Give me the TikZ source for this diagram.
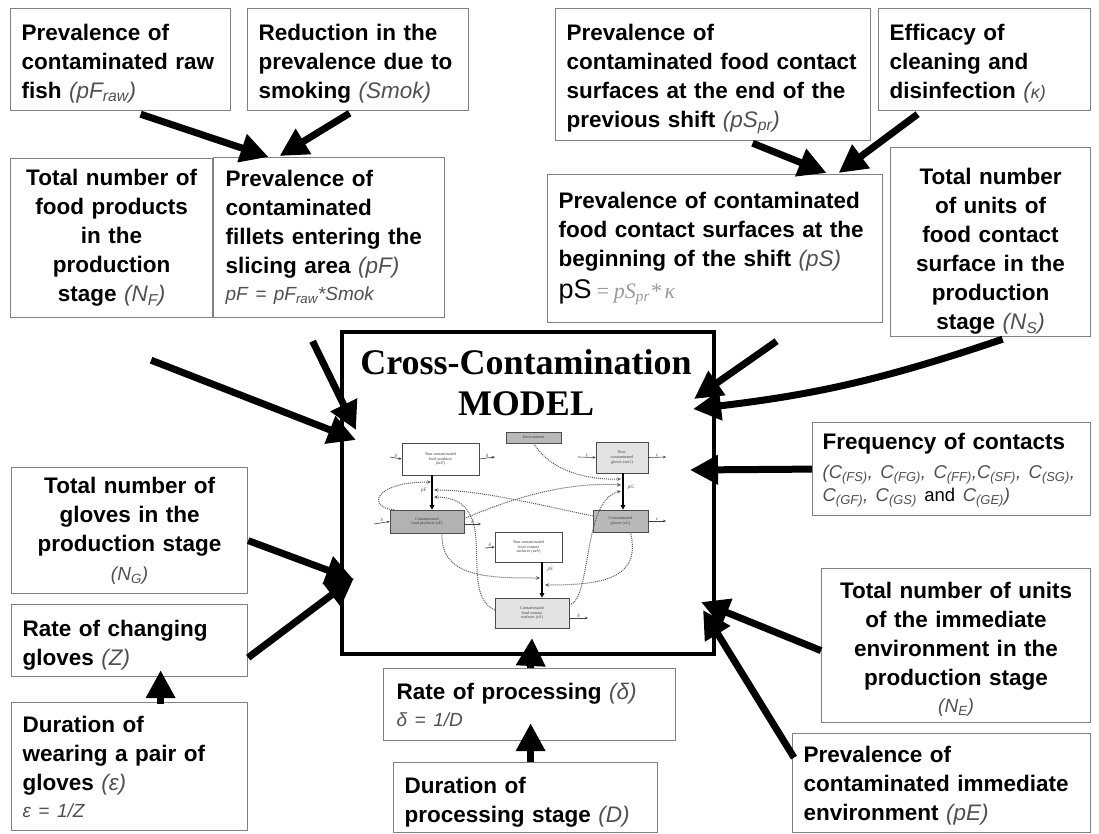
\documentclass[tikz,border=0pt]{standalone}
\usepackage{fontspec}
\setmainfont{Liberation Sans}
\newfontfamily\serifrm{Liberation Serif}
\usetikzlibrary{arrows.meta}
\definecolor{boxgray}{HTML}{808080}
\definecolor{vargray}{HTML}{505050}
\definecolor{lightvar}{HTML}{9A9A9A}
% italic variable names inside the bold box texts
\newcommand\pvar[1]{{\mdseries\itshape\color{vargray}#1}}
\newcommand\formula[1]{{\mdseries\itshape\color{vargray}\fontsize{19}{22}\selectfont #1}}
% extra room above the first line of a box text
\newcommand\headroom[1]{\rule{0pt}{#1}}
\begin{document}
\begin{tikzpicture}[x=1pt,y=-1pt,
  box/.style={draw=boxgray, line width=1.2pt, fill=white, inner xsep=11pt, inner ysep=0pt,
    anchor=north west, font=\bfseries\fontsize{22.5}{29}\selectfont, align=left},
  cbox/.style={box, align=center},
  bigarrow/.style={line width=7pt, -{Triangle[length=28pt,width=28pt]}},
  mini/.style={draw=black!70, line width=0.6pt, inner sep=0.5pt, align=center, text=black!75,
    font=\serifrm\fontsize{4.2}{4.8}\selectfont},
  miniflow/.style={line width=1.6pt, -{Triangle[length=4.5pt,width=4.5pt]}},
  dotflow/.style={densely dotted, line width=1pt, draw=black!65, -{Stealth[length=4pt,width=3.5pt]}},
  sideflow/.style={line width=0.6pt, draw=black!75, -{Stealth[length=3pt,width=2.5pt]}},
  sidelab/.style={font=\serifrm\itshape\fontsize{5}{5}\selectfont, text=black!75, inner sep=0.5pt}]
\useasboundingbox[fill=white] (0,0) rectangle (1099,834);

% ---- input boxes, top left
\node[box, minimum width=220pt, minimum height=102pt, text width=198pt] (rawfish) at (10,8)
  {\headroom{25pt}Prevalence of\\contaminated raw\\fish \pvar{(pF\textsubscript{raw})}};
\node[box, minimum width=221pt, minimum height=102pt, text width=199pt] (smoking) at (247,8)
  {\headroom{25pt}Reduction in the\\prevalence due to\\smoking \pvar{(Smok)}};
\node[cbox, minimum width=195pt, minimum height=159pt, text width=180pt] (foodprod) at (10,158)
  {Total number of\\food products\\in the\\production\\stage \pvar{(N\textsubscript{F})}};
\node[box, minimum width=231pt, minimum height=160pt, text width=207pt, inner xsep=12pt] (fillets) at (213,157)
  {Prevalence of\\contaminated\\fillets entering the\\slicing area \pvar{(pF)}\\[-2pt]\formula{pF = pF\textsubscript{raw}*Smok}};

% ---- input boxes, top right
\node[box, minimum width=315pt, minimum height=132pt, text width=293pt] (prevshift) at (555,8)
  {\headroom{25pt}Prevalence of\\contaminated food contact\\surfaces at the end of the\\previous shift \pvar{(pS\textsubscript{pr})}};
\node[box, minimum width=212pt, minimum height=102pt, text width=190pt] (efficacy) at (878,8)
  {\headroom{25pt}Efficacy of\\cleaning and\\disinfection \pvar{(\fontsize{18}{20}\selectfont κ)}};
\node[box, minimum width=335pt, minimum height=148pt, text width=313pt] (pS) at (547,174)
  {Prevalence of contaminated\\food contact surfaces at the\\beginning of the shift \pvar{(pS)}\\[3pt]
   {\mdseries\fontsize{27}{30}\selectfont pS}{\mdseries\color{lightvar}\serifrm\itshape\fontsize{22}{26}\selectfont\,=\,pS\textsubscript{pr}*\,κ}};
\node[cbox, minimum width=200pt, minimum height=189pt, text width=190pt, inner xsep=5pt] (surfunits) at (890,147)
  {\headroom{34pt}Total number\\of units of\\food contact\\surface in the\\production\\stage \pvar{(N\textsubscript{S})}};

% ---- input boxes, left
\node[cbox, minimum width=236pt, minimum height=126pt, text width=220pt, inner xsep=8pt] (gloves) at (11,467)
  {Total number of\\gloves in the\\production stage\\\pvar{\fontsize{19}{22}\selectfont(N\textsubscript{G})}};
\node[box, minimum width=236pt, minimum height=72pt, text width=214pt] (changing) at (11,604)
  {\headroom{25pt}Rate of changing\\gloves \pvar{(Z)}};
\node[box, minimum width=236pt, minimum height=128pt, text width=214pt] (wearing) at (11,702)
  {Duration of\\wearing a pair of\\gloves \pvar{(ε)}\\[-2pt]\formula{ε = 1/Z}};

% ---- input boxes, bottom
\node[box, minimum width=292pt, minimum height=72pt, text width=266pt, inner xsep=13pt] (procrate) at (383,668)
  {Rate of processing \pvar{(δ)}\\[-2pt]\formula{δ = 1/D}};
\node[box, minimum width=264pt, minimum height=70pt, text width=242pt] (procdur) at (393,762)
  {\headroom{26pt}Duration of\\processing stage \pvar{(D)}};

% ---- input boxes, right
\node[box, minimum width=278pt, minimum height=93pt, text width=258pt, inner xsep=10pt] (contacts) at (812,422)
  {\headroom{18pt}Frequency of contacts\par\vspace{6pt}
   {\mdseries\fontsize{18.5}{23}\selectfont
   \pvar{(C\textsubscript{(FS)}, C\textsubscript{(FG)}, C\textsubscript{(FF)},C\textsubscript{(SF)}, C\textsubscript{(SG)},}\\
   \pvar{C\textsubscript{(GF)}, C\textsubscript{(GS)}} and \pvar{C\textsubscript{(GE)})}\par}};
\node[cbox, minimum width=269pt, minimum height=154pt, text width=255pt, inner xsep=7pt] (envunits) at (821,568)
  {\headroom{24pt}Total number of units\\of the immediate\\environment in the\\production stage\\[-2pt]\pvar{\fontsize{19}{22}\selectfont(N\textsubscript{E})}};
\node[box, minimum width=298pt, minimum height=99pt, text width=276pt] (pE) at (792,733)
  {\headroom{22pt}Prevalence of\\contaminated immediate\\environment \pvar{(pE)}};

% ---- the model
\node[draw, line width=4pt, minimum width=372pt, minimum height=322pt, anchor=north west] (model) at (340,330) {};
\node[font=\serifrm\bfseries\fontsize{36}{41}\selectfont, align=center] (title) at (526,383)
  {Cross-Contamination\\MODEL};

% compartments of the model
\node[mini, fill=gray!55, minimum width=55pt, minimum height=11pt] (env) at (533.5,437.5) {Environment};
\node[mini, fill=white, minimum width=77pt, minimum height=32pt] (ncF) at (440.5,459) {Non contaminated\\food products\\(ncF)};
\node[mini, fill=gray!22, minimum width=52pt, minimum height=31pt] (ncG) at (622,457.5) {Non-\\contaminated\\gloves (ncG)};
\node[mini, fill=gray!60, minimum width=74pt, minimum height=23pt] (cF) at (427,521.5) {Contaminated\\food products (cF)};
\node[mini, fill=gray!55, minimum width=55pt, minimum height=22pt] (cG) at (620.5,521) {Contaminated\\gloves (cG)};
\node[mini, fill=white, minimum width=67pt, minimum height=30pt] (ncS) at (528.5,547) {Non contaminated\\food contact\\surfaces (ncS)};
\node[mini, fill=gray!22, minimum width=74pt, minimum height=30pt] (cS) at (532,613) {Contaminated\\food contact\\surfaces (cS)};

% contamination flows
\draw[miniflow] ([xshift=-8.5pt]ncF.south) -- ([xshift=5pt]cF.north);
\draw[miniflow] ([xshift=1pt]ncG.south) -- ([xshift=2.5pt]cG.north);
\draw[miniflow] ([xshift=13.5pt]ncS.south) -- ([xshift=10pt]cS.north);
\node[sidelab] (lpF) at (424,490) {pF};
\node[sidelab] (lpG) at (631,487) {pG};
\node[sidelab] (lpS) at (550,569) {pS};

% points where the contacts act on the flows
\coordinate (pF1) at (431,482);
\coordinate (pF2) at (434,490);
\coordinate (pF3) at (434,497);
\coordinate (pG1) at (621,479);
\coordinate (pG2) at (621,485);
\coordinate (pG3) at (621,491);
\coordinate (pS1) at (540,578);
\coordinate (pS2) at (545,585);

\draw[dotflow] (env.south) .. controls (550,470) and (585,480) .. (pG1);
\draw[dotflow] ([yshift=3pt]cF.east) .. controls (520,495) and (570,482) .. (pG2);
\draw[dotflow] ([yshift=5pt]cG.west) .. controls (540,505) and (480,490) .. (pF2);
\draw[dotflow] ([xshift=-33pt]cF.north) .. controls (368,508) and (372,482) .. (pF1);
\draw[dotflow] ([yshift=3pt]cS.west) .. controls (455,592) and (505,498) .. (pF3);
\draw[dotflow] ([xshift=15pt]cF.south) .. controls (440,578) and (490,578) .. (pS1);
\draw[dotflow] ([xshift=10pt]cG.south) .. controls (642,580) and (600,585) .. (pS2);
\draw[dotflow] ([yshift=8pt]cS.east) .. controls (592,600) and (582,500) .. (pG3);

% inflow and outflow of each compartment
\coordinate (ncFin) at (390,457);
\coordinate (ncFout) at (495,457);
\coordinate (cFin) at (374,524);
\coordinate (cFout) at (481,524);
\coordinate (ncGin) at (578,457);
\coordinate (ncGout) at (666,457);
\coordinate (cGout) at (666,521);
\coordinate (ncSin) at (485,548);
\coordinate (cSout) at (588,618);
\draw[sideflow] (ncFin) -- node[sidelab, above] {δ} (ncF.west);
\draw[sideflow] (ncF.east) -- node[sidelab, above] {δ} (ncFout);
\draw[sideflow] (cFin) -- node[sidelab, above] {δ} (cF.west);
\draw[sideflow] ([yshift=-2.5pt]cF.east) -- node[sidelab, above] {δ} (cFout);
\draw[sideflow] (ncGin) -- node[sidelab, above] {ε} (ncG.west);
\draw[sideflow] (ncG.east) -- node[sidelab, above] {ε} (ncGout);
\draw[sideflow] (cG.east) -- node[sidelab, above] {ε} (cGout);
\draw[sideflow] (ncSin) -- node[sidelab, above] {δ} (ncS.west);
\draw[sideflow] ([yshift=-5pt]cS.east) -- node[sidelab, above] {δ} (cSout);

% ---- arrows between the inputs
\draw[bigarrow] ([xshift=20pt,yshift=-3pt]rawfish.south) -- ([xshift=-60.5pt]fillets.north);
\draw[bigarrow] ([xshift=-8.5pt,yshift=-2pt]smoking.south) -- ([xshift=-49.5pt,yshift=1pt]fillets.north);
\draw[bigarrow] ([xshift=39.5pt,yshift=-2pt]prevshift.south) -- ([xshift=111.5pt,yshift=1pt]pS.north);
\draw[bigarrow] ([xshift=-67pt,yshift=-3pt]efficacy.south) -- ([xshift=123.5pt,yshift=1pt]pS.north);
\draw[bigarrow] ([xshift=31pt,yshift=-2pt]wearing.north) -- ([xshift=31pt,yshift=7pt]changing.south);
\draw[bigarrow] ([xshift=5pt]procdur.north) -- ([xshift=1pt,yshift=18pt]procrate.south);

% ---- arrows into the model
\draw[bigarrow] ([xshift=-16.5pt,yshift=-23pt]fillets.south) -- ([xshift=16pt,yshift=63pt]model.west);
\draw[bigarrow] ([xshift=39.5pt,yshift=-42pt]foodprod.south) -- ([xshift=16pt,yshift=53pt]model.west);
\draw[bigarrow] ([yshift=-10pt]gloves.east) -- ([xshift=14pt,yshift=-87pt]model.west);
\draw[bigarrow] ([yshift=-17pt]changing.east) -- ([xshift=14pt,yshift=-85pt]model.west);
\draw[bigarrow] ([xshift=1pt]procrate.north) -- ([xshift=4pt,yshift=18pt]model.south);
\draw[bigarrow] (contacts.west) -- ([xshift=-26pt,yshift=23pt]model.east);
\draw[bigarrow] ([xshift=12pt,yshift=-2pt]surfunits.south) to[bend left=6] ([xshift=-23pt,yshift=84pt]model.east);
\draw[bigarrow] ([xshift=61.5pt,yshift=-18pt]pS.south) -- ([xshift=-22pt,yshift=94pt]model.east);
\draw[bigarrow] ([yshift=-5pt]envunits.west) -- ([xshift=-15pt,yshift=54pt]model.south east);
\draw[bigarrow] ([xshift=2pt,yshift=25.5pt]pE.west) -- ([xshift=-13pt,yshift=46pt]model.south east);
\end{tikzpicture}
\end{document}
